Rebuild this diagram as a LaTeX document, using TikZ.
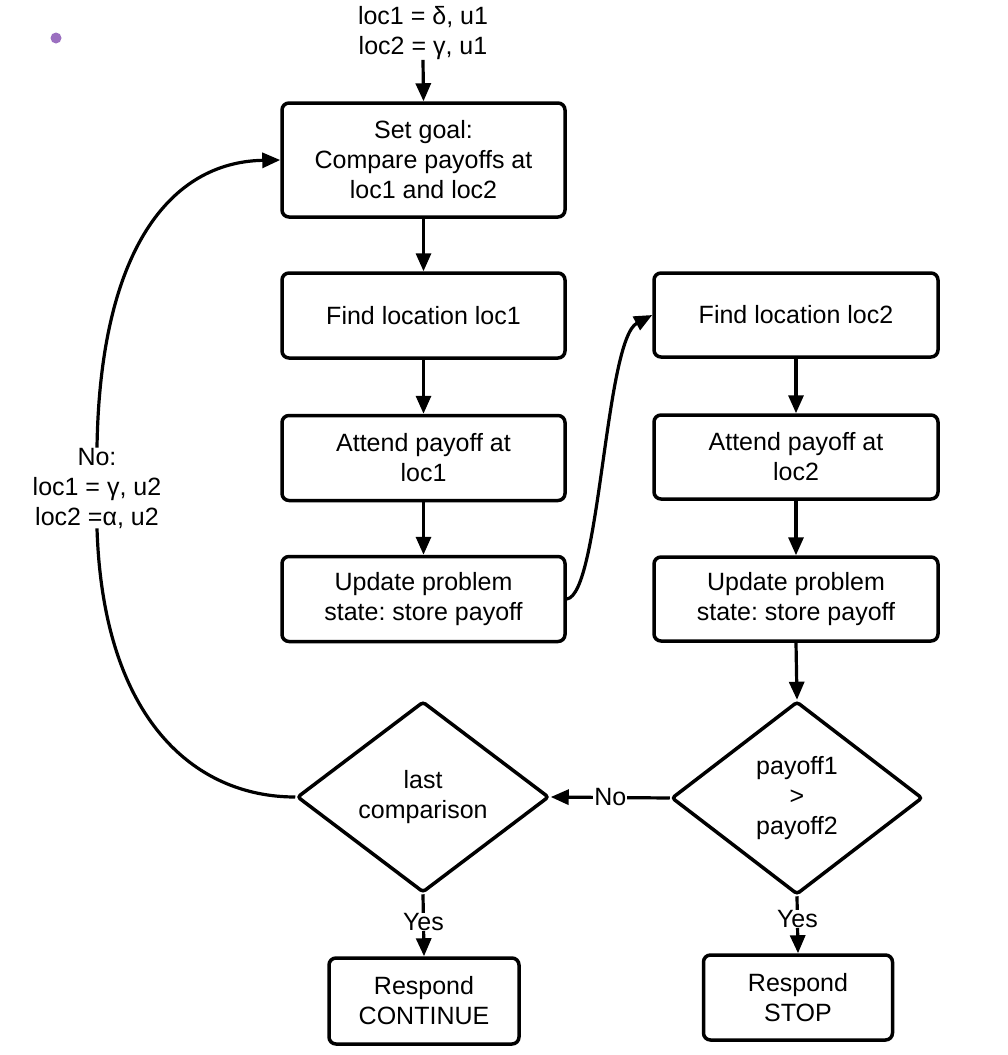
\documentclass[tikz,border=0pt]{standalone}
\usepackage{fontspec}
\setmainfont{Liberation Sans}
\usetikzlibrary{arrows.meta,shapes.geometric}
\definecolor{dotpurple}{HTML}{9B6FC0}
\frenchspacing
\begin{document}
\begin{tikzpicture}[x=1pt,y=-1pt,
  every node/.style={font=\fontsize{25}{30}\selectfont},
  box/.style={draw,line width=3.5pt,rounded corners=7pt,align=center,inner sep=0pt},
  dia/.style={draw,diamond,line width=3.5pt,rounded corners=3pt,align=center,inner sep=0pt,aspect=1.31},
  arr/.style={line width=3.2pt,-{Triangle[length=18pt,width=15pt]}},
  ln/.style={line width=3.2pt},
  lbl/.style={align=center,inner sep=0pt}]
\useasboundingbox (0,0) rectangle (1008,1055);
\fill[dotpurple] (56,38) circle (5.5);
% nodes
\node[lbl] (start) at (423,33) {loc1 = δ, u1\\loc2 = γ, u1};
\node[box,minimum width=283pt,minimum height=114pt] (goal) at (423.5,160) {Set goal:\\Compare payoffs at\\loc1 and loc2};
\node[box,minimum width=283pt,minimum height=85pt] (find1) at (423.5,315.5) {Find location loc1};
\node[box,minimum width=283pt,minimum height=85pt] (att1) at (423.5,458) {Attend payoff at\\loc1};
\node[box,minimum width=283pt,minimum height=85pt] (upd1) at (423.5,599) {Update problem\\state: store payoff};
\node[box,minimum width=284pt,minimum height=84pt] (find2) at (796,315) {Find location loc2};
\node[box,minimum width=284pt,minimum height=84pt] (att2) at (796,457) {Attend payoff at\\loc2};
\node[box,minimum width=284pt,minimum height=84pt] (upd2) at (796,599) {Update problem\\state: store payoff};
\node[dia,minimum width=252pt,minimum height=191pt] (last) at (423,797) {last\\comparison};
\node[dia,minimum width=251pt,minimum height=193pt] (cmp) at (797,798) {payoff1\\>\\payoff2};
\node[box,minimum width=190pt,minimum height=86pt] (cont) at (424,1001) {Respond\\CONTINUE};
\node[box,minimum width=189pt,minimum height=85pt] (stop) at (798,997.5) {Respond\\STOP};
\node[lbl] (nolbl) at (97,488) {No:\\loc1 = γ, u2\\loc2 =α, u2};
% connectors
\draw[arr] (start.south) -- (goal.north);
\draw[arr] (goal) -- (find1);
\draw[arr] (find1) -- (att1);
\draw[arr] (att1) -- (upd1);
\draw[arr] (upd1.east) .. controls (600,595) and (605,340) .. (find2.west);
\draw[arr] (find2) -- (att2);
\draw[arr] (att2) -- (upd2);
\draw[arr] (upd2.south) -- (cmp.north);
\draw[arr] (cmp.west) -- node[fill=white,inner sep=1pt]{No} (last.east);
\draw[arr] (last.south) -- node[fill=white,inner sep=0pt,pos=0.45]{Yes} (cont.north);
\draw[arr] (cmp.south) -- node[fill=white,inner sep=0pt,pos=0.4]{Yes} (stop.north);
\draw[ln] (last.west) .. controls (195,797) and (103,720) .. (nolbl.south);
\draw[arr] (nolbl.north) .. controls (100,250) and (170,162) .. (goal.west);
\end{tikzpicture}
\end{document}
